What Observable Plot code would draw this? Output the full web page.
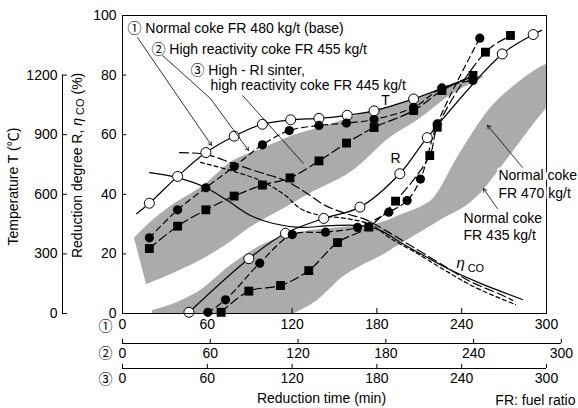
<!DOCTYPE html>
<html>
<head>
<meta charset="utf-8">
<script src="https://cdn.jsdelivr.net/npm/d3@7"></script>
<script src="https://cdn.jsdelivr.net/npm/@observablehq/plot@0.6"></script>
<style>
  html, body { margin: 0; padding: 0; background: white; }
</style>
</head>
<body>
<div id="chart"></div>
<script>
// ---------- tick labels ----------
const timeTicks = [0, 60, 120, 180, 240, 300];
const pctTicks = [0, 20, 40, 60, 80, 100];
const tempTicks = [0, 300, 600, 900, 1200];
const TEMP_FULL = 1500;          // °C that corresponds to 100 % on the left scale
const AXIS2_STRETCH = 1.035;     // time axis ② is drawn slightly longer than ①

// ---------- T curves (values in % of the left scale; time in min of axis ①) ----------
const T1_time = [10, 19, 39, 59, 79, 99, 119, 139, 159, 178, 206, 226, 250];
const T1_val  = [33.5, 37, 46, 54, 59.5, 63.5, 65, 65.5, 66.5, 68, 72, 75.5, 80];
const T1_mark = [0, 1, 1, 1, 1, 1, 1, 1, 1, 1, 1, 0, 0];

const T2_time = [19, 39, 59, 79, 99, 118, 139, 158.5, 178, 206, 226, 248];
const T2_val  = [25.4, 34.8, 42.2, 49.3, 56.6, 61.4, 63.1, 63.9, 65.1, 69.2, 75.7, 78.2];

const T3_time = [19, 39, 59, 79, 99, 118.5, 139, 158.5, 178, 206, 226, 248];
const T3_val  = [21.8, 29.3, 34.8, 39.4, 43.1, 45.5, 51.2, 57.2, 62.4, 68.1, 74.8, 79.9];

// ---------- R curves ----------
const R1_time = [47, 89.4, 115.3, 142.4, 168, 196.2, 215.6, 268.7, 290.6, 296.5];
const R1_val  = [0.4, 18.4, 26.9, 31.9, 35.7, 46.9, 59, 87.1, 93.6, 95];
const R1_mark = [1, 1, 1, 1, 1, 1, 1, 1, 1, 0];

const R2_time = [60.4, 72.9, 97.1, 120.1, 143.6, 166.3, 188.4, 201.4, 210.8, 222.7, 252.8];
const R2_val  = [0.4, 4.6, 16.9, 26.5, 27.3, 28.9, 34, 37.9, 45.1, 63.6, 92.4];

const R3_time = [69.8, 89.4, 111.8, 131.8, 152.1, 174.3, 193.2, 217.4, 222.7, 256.8, 274.5, 276.7];
const R3_val  = [0.4, 7.5, 9.4, 14.4, 23.8, 29, 37.7, 53, 62.5, 87.7, 93.3, 94];
const R3_mark = [1, 1, 1, 1, 1, 1, 1, 1, 1, 1, 1, 0];

// ---------- eta_CO curves ----------
const E1_time = [19.1, 38.9, 58.7, 74.3, 90.6, 106.8, 125.9, 147.2, 168.4, 182.5, 196.7, 214.4, 230, 253.3, 283];
const E1_val  = [47.3, 45.6, 42.3, 37.9, 32.9, 30.2, 28.9, 29.5, 29.5, 27.9, 23.8, 19.1, 15.1, 10.1, 4.7];

const E2_time = [40.3, 58.7, 78.5, 97.6, 115.3, 129.5, 143.6, 157.8, 172, 186.1, 203.8, 227.1, 246.2, 267.5, 276];
const E2_val  = [54, 53.4, 50.3, 47.3, 44.6, 40.6, 36.2, 33.6, 31.5, 27.9, 22.8, 16.1, 10.7, 6.4, 4.4];

const E3_time = [55.2, 76.4, 97.6, 115.3, 125.9, 140.1, 157.8, 175.5, 189.6, 207.3, 228.5, 249.8, 278.1];
const E3_val  = [50.7, 48.0, 44.6, 39.6, 35.2, 32.9, 31.9, 29.9, 25.2, 20.5, 14.4, 8.7, 3.0];

// ---------- shaded ranges (normal coke, FR 435 - 470 kg/t), upper and lower edges ----------
const TbandUp_time = [8.5, 19.8, 34, 57.3, 78.5, 97.6, 121, 145, 168.4, 189.6, 203.8, 225, 248.3, 256.1];
const TbandUp_val  = [25.2, 30.5, 35.9, 42.9, 51.3, 55, 59.7, 63.1, 66.8, 69.5, 71.5, 75.5, 79.2, 79.5];
const TbandLo_time = [17, 37.5, 55.2, 72.9, 90.6, 108.3, 133, 161.3, 189.6, 208.7, 230, 239.2, 251.9, 256.1];
const TbandLo_val  = [9.7, 13.8, 17.8, 22.8, 28.9, 33.6, 40.3, 47.3, 59.1, 64.8, 72.5, 75.2, 78.2, 79.5];

const RbandUp_time = [21.2, 30, 37.5, 46, 55.2, 78.5, 102.6, 125.9, 154.2, 179, 200.2, 212, 220, 237, 253.3, 262, 272.4, 290.8, 300];
const RbandUp_val  = [1, 2.2, 3.4, 5.3, 7.7, 16.8, 23.8, 27.2, 28.9, 29.9, 33.6, 36, 38.6, 52.3, 64.4, 69.8, 74.5, 81.2, 83.6];
const RbandLo_time = [21.2, 60, 100, 121, 125.9, 138, 147.2, 156.4, 168.4, 182.5, 196.7, 210.8, 228.5, 242.7, 255.4, 267.5, 278.1, 288.7, 300];
const RbandLo_val  = [0, 0, 0, 0, 1, 4.4, 8.4, 12.4, 15.8, 19.1, 23.2, 27.2, 32.2, 35.9, 41.3, 48.7, 55.4, 62.1, 68.8];

// ---------- annotations ----------
const legendLines = [
  {text: "① Normal coke FR 480 kg/t (base)", t: 3.5, v: 95.6},
  {text: "② High reactivity coke FR 455 kg/t", t: 20.5, v: 88.6},
  {text: "③ High - RI sinter,", t: 48.1, v: 81.5},
  {text: "high reactivity coke FR 445 kg/t", t: 62.3, v: 76.5}
];
const leaders = [
  {t1: 10.6, v1: 92.6, t2: 63.0, v2: 56.4},
  {t1: 62.3, v1: 72.1, t2: 89.2, v2: 54.7},
  {t1: 283.1, v1: 49.0, t2: 258.3, v2: 63.1},
  {t1: 265.3, v1: 35.2, t2: 255.4, v2: 41.9}
];
const leaderBends = [
  {t1: 28.3, v1: 86.6, t2: 62.3, v2: 72.1},
  {t1: 84.9, v1: 73.2, t2: 128.1, v2: 50.3}
];
const bandLabels470 = [
  {text: "Normal coke", t: 266, v: 46.3},
  {text: "FR 470 kg/t", t: 266, v: 40.3}
];
const bandLabels435 = [
  {text: "Normal coke", t: 241.3, v: 31.9},
  {text: "FR 435 kg/t", t: 241.3, v: 26.2}
];

// ---------- helpers ----------
const pts = (ts, vs, ms) => ts.map((t, i) => ({t, v: vs[i], m: ms ? ms[i] : 1}));
const ribbon = (ut, uv, lt, lv) => ut.map((t, i) => ({ut: t, uv: uv[i], lt: lt[i], lv: lv[i]}));
const T1 = pts(T1_time, T1_val, T1_mark), T2 = pts(T2_time, T2_val), T3 = pts(T3_time, T3_val);
const R1 = pts(R1_time, R1_val, R1_mark), R2 = pts(R2_time, R2_val), R3 = pts(R3_time, R3_val, R3_mark);
const E1 = pts(E1_time, E1_val), E2 = pts(E2_time, E2_val), E3 = pts(E3_time, E3_val);
const Tband = ribbon(TbandUp_time, TbandUp_val, TbandLo_time, TbandLo_val);
const Rband = ribbon(RbandUp_time, RbandUp_val, RbandLo_time, RbandLo_val);

const FONT = "'Liberation Sans', Arial, 'Noto Sans CJK JP', sans-serif";
const lineOpts = (dash) => ({x: "t", y: "v", stroke: "black", strokeWidth: 1.2, curve: "catmull-rom", strokeDasharray: dash});
const openDots = (data) => Plot.dot(data.filter(d => d.m), {x: "t", y: "v", r: 5, fill: "white", stroke: "black", strokeWidth: 1});
const fillDots = (data) => Plot.dot(data.filter(d => d.m), {x: "t", y: "v", r: 4.6, fill: "black", stroke: "none"});
const squares = (data) => Plot.dot(data.filter(d => d.m), {x: "t", y: "v", r: 5, symbol: "square", fill: "black", stroke: "none"});
const bandOpts = {x1: "ut", y1: "uv", x2: "lt", y2: "lv", curve: "catmull-rom", fill: "#ababab", stroke: "none", clip: true};

const axisRow = (offset, stretch, labelOffset) => [
  Plot.ruleY([0], {x1: 0, x2: 300 * stretch, dy: offset, stroke: "black", strokeWidth: 1}),
  Plot.ruleX(timeTicks, {x: d => d * stretch, y1: 0, y2: 1.4, dy: offset, stroke: "black", strokeWidth: 1}),
  Plot.text(timeTicks, {x: d => d * stretch, y: 0, dy: labelOffset, text: d => String(d), fontSize: 14, fill: "black"})
];

const chart = Plot.plot({
  width: 578,
  height: 408,
  marginLeft: 122,
  marginRight: 32,
  marginTop: 15,
  marginBottom: 95,
  x: {domain: [0, 300], axis: null},
  y: {domain: [0, 100], axis: null},
  style: {fontFamily: FONT, fontSize: "14px", background: "white", color: "black", overflow: "visible"},
  marks: [
    // shaded ranges
    Plot.area(Tband, bandOpts),
    Plot.area(Rband, bandOpts),

    // eta_CO
    Plot.line(E1, lineOpts(null)),
    Plot.line(E2, lineOpts("9,4")),
    Plot.line(E3, lineOpts("4,3")),

    // T and R lines
    Plot.line(T1, lineOpts(null)),
    Plot.line(T2, lineOpts("6,4")),
    Plot.line(T3, lineOpts("9,4")),
    Plot.line(R1, lineOpts(null)),
    Plot.line(R2, lineOpts("6,4")),
    Plot.line(R3, lineOpts("9,4")),

    // markers
    openDots(T1), fillDots(T2), squares(T3),
    openDots(R1), fillDots(R2), squares(R3),

    // frame and inner ticks
    Plot.frame({stroke: "black", strokeWidth: 1}),
    Plot.ruleY(pctTicks.slice(1, -1), {y: d => d, x1: 0, x2: 3, stroke: "black"}),
    Plot.ruleX(timeTicks.slice(1, -1), {x: d => d, y1: 0, y2: 1.7, stroke: "black"}),
    Plot.text(pctTicks, {x: 0, y: d => d, text: d => String(d), textAnchor: "end", dx: -6, fontSize: 14, fill: "black"}),

    // temperature axis
    Plot.ruleX([0], {y1: 0, y2: 1200 * 100 / TEMP_FULL, dx: -60, stroke: "black"}),
    Plot.ruleY(tempTicks, {y: d => d * 100 / TEMP_FULL, x1: 0, x2: 3.5, dx: -60, stroke: "black"}),
    Plot.text(tempTicks, {x: 0, y: d => d * 100 / TEMP_FULL, text: d => String(d), textAnchor: "end", dx: -65, fontSize: 14, fill: "black"}),

    // time axes ①, ②, ③
    Plot.text(timeTicks, {x: d => d, y: 0, dy: 11, text: d => String(d), fontSize: 14, fill: "black"}),
    ...axisRow(30, AXIS2_STRETCH, 40),
    ...axisRow(55, 1, 65),
    Plot.text(["①"], {x: 0, y: 0, dx: -17, dy: 13, text: d => d, fontSize: 14, fill: "black"}),
    Plot.text(["②"], {x: 0, y: 0, dx: -17, dy: 40, text: d => d, fontSize: 14, fill: "black"}),
    Plot.text(["③"], {x: 0, y: 0, dx: -17, dy: 66, text: d => d, fontSize: 14, fill: "black"}),

    // axis titles
    Plot.text(["Reduction time (min)"], {x: 140.8, y: 0, dy: 85, text: d => d, fontSize: 14, fill: "black"}),
    Plot.text(["FR: fuel ratio"], {x: 320.5, y: 0, dy: 87, text: d => d, textAnchor: "end", fontSize: 14, fill: "black"}),
    Plot.text(["Temperature T (℃)"], {x: 0, y: 42.6, dx: -109, rotate: -90, text: d => d, fontSize: 14, fill: "black"}),
    Plot.text(["Reduction degree R, η CO (%)"], {x: 0, y: 49.7, dx: -45, rotate: -90, text: d => d, fontSize: 14, fill: "black"}),

    // annotations
    Plot.text(legendLines, {x: "t", y: "v", text: "text", textAnchor: "start", fontSize: 14, fill: "black"}),
    Plot.arrow(leaders, {x1: "t1", y1: "v1", x2: "t2", y2: "v2", stroke: "black", strokeWidth: 0.8, headLength: 7}),
    Plot.link(leaderBends, {x1: "t1", y1: "v1", x2: "t2", y2: "v2", stroke: "black", strokeWidth: 0.8}),
    Plot.text(["T"], {x: 186.1, y: 71.5, text: d => d, fontSize: 14, fill: "black"}),
    Plot.text(["R"], {x: 193.2, y: 52.0, text: d => d, fontSize: 14, fill: "black"}),
    Plot.text(["η"], {x: 239.2, y: 16.8, text: d => d, fontSize: 15, fontStyle: "italic", fill: "black"}),
    Plot.text(["CO"], {x: 244.2, y: 15.1, text: d => d, textAnchor: "start", fontSize: 11, fill: "black"}),
    Plot.text(bandLabels470, {x: "t", y: "v", text: "text", textAnchor: "start", fontSize: 14, fill: "black", stroke: "white", strokeWidth: 5}),
    Plot.text(bandLabels435, {x: "t", y: "v", text: "text", textAnchor: "start", fontSize: 14, fill: "black"})
  ]
});

// italic eta and subscript CO in the left axis title
const svg = d3.select(chart);
svg.selectAll("text").filter(function() { return this.textContent === "Reduction degree R, η CO (%)"; })
  .each(function() {
    const el = d3.select(this);
    el.text(null);
    el.append("tspan").text("Reduction degree R, ");
    el.append("tspan").attr("font-style", "italic").text("η");
    el.append("tspan").attr("font-size", 11).attr("dy", 2).text(" CO");
    el.append("tspan").attr("dy", -2).text(" (%)");
  });

document.getElementById("chart").appendChild(chart);
</script>
</body>
</html>
